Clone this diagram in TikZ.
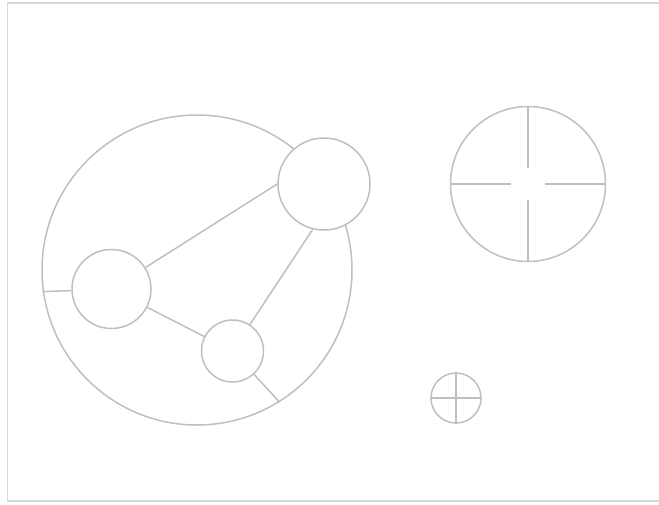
\documentclass[tikz,border=0pt]{standalone}
\usepackage{tikz}
\usetikzlibrary{positioning,calc}

\begin{document}
\begin{tikzpicture}[x=1pt,y=-1pt,line width=1.5pt,
  ring/.style={draw=gray!50,circle,fill=white,inner sep=0pt},
  link/.style={draw=gray!50},
  frame/.style={draw=gray!30}]
\useasboundingbox (0,0) rectangle (659,504);
\draw[frame] (662,3) -- (7.5,3) -- (7.5,501) -- (662,501);
% network in the big ring
\node (orb) [ring,fill=none,minimum size=310pt] at (197,270) {};
\node (hubA) [ring,minimum size=92pt] at (324,184) {};
\node (hubB) [ring,minimum size=79pt] at (111.5,289) {};
\node (hubC) [ring,minimum size=62pt] at (232.5,351) {};
\draw[link] (hubB) -- (hubA.west);
\draw[link] (hubB) -- (hubC);
\draw[link] (hubC) -- (hubA.256);
\draw[link] (hubB) -- (orb.188.5);
\draw[link] (hubC) -- (orb.302);
% sights
\node (sight) [ring,minimum size=155pt] at (528,184) {};
\draw[link] (sight.north) -- ++(0,62);
\draw[link] (sight.south) -- ++(0,-62);
\draw[link] (sight.west) -- ++(61,0);
\draw[link] (sight.east) -- ++(-61,0);
\node (dot) [ring,minimum size=50pt] at (456,398) {};
\draw[link] (dot.north) -- (dot.south);
\draw[link] (dot.west) -- (dot.east);
\end{tikzpicture}
\end{document}
